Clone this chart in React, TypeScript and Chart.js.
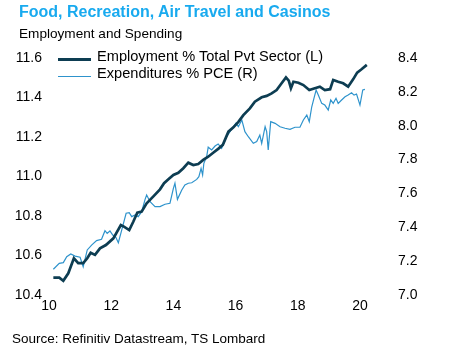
import React, { useEffect, useRef } from "react";
import { Chart, registerables } from "chart.js";

Chart.register(...registerables);

// Employment % total private sector (left axis)
const empYears = [
  2010.14, 2010.33, 2010.46, 2010.62, 2010.8, 2010.94, 2011.1, 2011.23, 2011.34, 2011.48,
  2011.64, 2011.83, 2012.07, 2012.31, 2012.41, 2012.58, 2012.71, 2012.84, 2012.98, 2013.14,
  2013.35, 2013.57, 2013.7, 2013.84, 2014.0, 2014.16, 2014.32, 2014.48, 2014.64, 2014.8,
  2014.96, 2015.12, 2015.28, 2015.44, 2015.59, 2015.77, 2015.93, 2016.09, 2016.25, 2016.46,
  2016.62, 2016.84, 2017.0, 2017.16, 2017.32, 2017.48, 2017.62, 2017.71, 2017.78, 2017.86,
  2018.02, 2018.18, 2018.37, 2018.55, 2018.71, 2018.87, 2019.04, 2019.14, 2019.3, 2019.46,
  2019.62, 2019.78, 2019.91, 2020.05, 2020.22,
];
const empValues = [
  10.488, 10.488, 10.472, 10.51, 10.586, 10.561, 10.561, 10.586, 10.614, 10.603,
  10.636, 10.653, 10.687, 10.754, 10.746, 10.729, 10.771, 10.817, 10.822, 10.864,
  10.898, 10.935, 10.966, 10.986, 11.008, 11.019, 11.042, 11.07, 11.058, 11.063,
  11.084, 11.1, 11.12, 11.14, 11.16, 11.227, 11.249, 11.277, 11.311, 11.345,
  11.379, 11.401, 11.408, 11.421, 11.438, 11.472, 11.502, 11.485, 11.447, 11.48,
  11.475, 11.463, 11.438, 11.447, 11.455, 11.438, 11.442, 11.489, 11.48, 11.472,
  11.455, 11.492, 11.526, 11.543, 11.565,
];

// Expenditures % PCE (right axis)
const expYears = [
  2010.14, 2010.33, 2010.46, 2010.57, 2010.7, 2010.84, 2011.0, 2011.1, 2011.23, 2011.37,
  2011.53, 2011.69, 2011.8, 2011.87, 2011.96, 2012.05, 2012.15, 2012.23, 2012.31, 2012.41,
  2012.48, 2012.58, 2012.66, 2012.77, 2012.87, 2012.98, 2013.09, 2013.14, 2013.25, 2013.41,
  2013.57, 2013.73, 2013.89, 2014.0, 2014.05, 2014.13, 2014.27, 2014.37, 2014.48, 2014.59,
  2014.75, 2014.82, 2014.89, 2014.94, 2014.98, 2015.07, 2015.12, 2015.23, 2015.34, 2015.44,
  2015.55, 2015.71, 2015.82, 2015.93, 2016.01, 2016.09, 2016.2, 2016.3, 2016.41, 2016.57,
  2016.68, 2016.78, 2016.84, 2016.95, 2017.0, 2017.05, 2017.13, 2017.27, 2017.43, 2017.59,
  2017.75, 2017.91, 2018.07, 2018.18, 2018.29, 2018.37, 2018.45, 2018.52, 2018.59, 2018.66,
  2018.77, 2018.87, 2018.98, 2019.06, 2019.14, 2019.23, 2019.3, 2019.41, 2019.52, 2019.62,
  2019.73, 2019.81, 2019.89, 2020.0, 2020.09, 2020.16,
];
const expValues = [
  7.152, 7.187, 7.191, 7.226, 7.242, 7.23, 7.223, 7.167, 7.266, 7.295,
  7.321, 7.329, 7.38, 7.364, 7.378, 7.354, 7.341, 7.309, 7.364, 7.433,
  7.483, 7.486, 7.463, 7.473, 7.463, 7.492, 7.565, 7.591, 7.551, 7.522,
  7.522, 7.536, 7.542, 7.63, 7.66, 7.565, 7.62, 7.65, 7.66, 7.663,
  7.683, 7.699, 7.748, 7.709, 7.778, 7.817, 7.873, 7.857, 7.88, 7.892,
  7.867, 7.935, 7.965, 7.994, 8.014, 7.994, 8.034, 7.965, 7.935, 7.896,
  7.906, 7.945, 7.896, 7.994, 7.965, 7.857, 8.024, 8.014, 7.994, 7.985,
  7.979, 7.991, 7.991, 8.034, 8.063, 8.024, 8.112, 8.162, 8.211, 8.181,
  8.132, 8.122, 8.093, 8.152, 8.132, 8.162, 8.132, 8.152, 8.171, 8.181,
  8.195, 8.181, 8.187, 8.122, 8.211, 8.215,
];

const xTicks = [2010, 2012, 2014, 2016, 2018, 2020];
const leftTicks = [10.4, 10.6, 10.8, 11.0, 11.2, 11.4, 11.6];
const rightTicks = [7.0, 7.2, 7.4, 7.6, 7.8, 8.0, 8.2, 8.4];

const empLabel = "Employment % Total Pvt Sector (L)";
const expLabel = "Expenditures % PCE (R)";

const DARK = "#0D3D52";
const BLUE = "#2E93CC";
const FONT = "'Liberation Sans', Arial, sans-serif";

export default function App() {
  const ref = useRef<HTMLCanvasElement | null>(null);

  useEffect(() => {
    if (!ref.current) return;
    const chart = new Chart(ref.current, {
      type: "line",
      data: {
        datasets: [
          {
            label: empLabel,
            data: empYears.map((x, i) => ({ x, y: empValues[i] })),
            borderColor: DARK,
            borderWidth: 2.7,
            pointRadius: 0,
            tension: 0,
            yAxisID: "yL",
          },
          {
            label: expLabel,
            data: expYears.map((x, i) => ({ x, y: expValues[i] })),
            borderColor: BLUE,
            borderWidth: 1.2,
            pointRadius: 0,
            tension: 0,
            yAxisID: "yR",
          },
        ],
      },
      options: {
        animation: false,
        responsive: false,
        maintainAspectRatio: false,
        layout: { padding: { top: 58, left: 0, right: 0, bottom: 0 } },
        plugins: { legend: { display: false }, tooltip: { enabled: false } },
        scales: {
          x: {
            type: "linear",
            min: 2010,
            max: 2020.4,
            grid: { display: false, drawTicks: false },
            border: { display: false },
            afterBuildTicks: (s: any) => {
              s.ticks = xTicks.map((v) => ({ value: v }));
            },
            afterFit: (s: any) => {
              s.height = 67;
            },
            ticks: {
              padding: 3,
              color: "#000",
              font: { family: FONT, size: 14 },
              maxRotation: 0,
              callback: (v: any) => String(Math.round(Number(v)) % 100),
            },
          },
          yL: {
            type: "linear",
            position: "left",
            min: 10.4,
            max: 11.6,
            grid: { display: false, drawTicks: false },
            border: { display: false },
            afterBuildTicks: (s: any) => {
              s.ticks = leftTicks.map((v) => ({ value: v }));
            },
            afterFit: (s: any) => {
              s.width = 49;
            },
            ticks: {
              padding: 7,
              color: "#000",
              font: { family: FONT, size: 14 },
              callback: (v: any) => Number(v).toFixed(1),
            },
          },
          yR: {
            type: "linear",
            position: "right",
            min: 7.0,
            max: 8.4,
            grid: { display: false, drawTicks: false },
            border: { display: false },
            afterBuildTicks: (s: any) => {
              s.ticks = rightTicks.map((v) => ({ value: v }));
            },
            afterFit: (s: any) => {
              s.width = 452 - 372.4;
            },
            ticks: {
              padding: 25.6,
              color: "#000",
              font: { family: FONT, size: 14 },
              callback: (v: any) => Number(v).toFixed(1),
            },
          },
        },
      },
    });
    return () => chart.destroy();
  }, []);

  const txt: React.CSSProperties = {
    position: "absolute",
    fontFamily: FONT,
    whiteSpace: "nowrap",
    margin: 0,
  };

  return (
    <div
      style={{
        position: "fixed",
        left: 0,
        top: 0,
        width: 452,
        height: 362,
        background: "#fff",
        overflow: "hidden",
      }}
    >
      <canvas
        ref={ref}
        width={452}
        height={362}
        style={{ position: "absolute", left: 0, top: 0, width: 452, height: 362 }}
      />
      <div
        style={{
          ...txt,
          left: 19,
          top: 4,
          fontSize: 16,
          lineHeight: "16px",
          fontWeight: "bold",
          color: "#18AAEF",
        }}
      >
        Food, Recreation, Air Travel and Casinos
      </div>
      <div style={{ ...txt, left: 19, top: 27, fontSize: 13.6, lineHeight: "13.6px", color: "#000" }}>
        Employment and Spending
      </div>
      <div style={{ position: "absolute", left: 58, top: 58.4, width: 33, height: 2.7, background: DARK }} />
      <div style={{ ...txt, left: 97, top: 49.3, fontSize: 14.6, lineHeight: "14.6px", color: "#000" }}>
        {empLabel}
      </div>
      <div style={{ position: "absolute", left: 58, top: 76, width: 33, height: 1.3, background: BLUE }} />
      <div style={{ ...txt, left: 97, top: 66, fontSize: 14.6, lineHeight: "14.6px", color: "#000" }}>
        {expLabel}
      </div>
      <div style={{ ...txt, left: 12, top: 331.5, fontSize: 13.5, lineHeight: "13.5px", color: "#000" }}>
        Source: Refinitiv Datastream, TS Lombard
      </div>
    </div>
  );
}
